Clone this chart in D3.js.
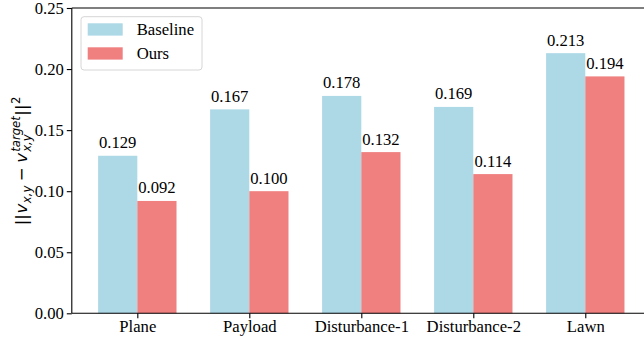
<!DOCTYPE html>
<html>
<head>
<meta charset="utf-8">
<script src="https://cdn.jsdelivr.net/npm/d3@7"></script>
<style>
  html, body { margin: 0; padding: 0; background: #fff; }
  svg { display: block; }
</style>
</head>
<body>
<svg id="chart" width="644" height="337"></svg>
<script>
// Data
const categories = ["Plane", "Payload", "Disturbance-1", "Disturbance-2", "Lawn"];
const baselineValues = [0.129, 0.167, 0.178, 0.169, 0.213];
const oursValues = [0.092, 0.100, 0.132, 0.114, 0.194];
const yTicks = [0.00, 0.05, 0.10, 0.15, 0.20, 0.25];
const seriesNames = ["Baseline", "Ours"];
const seriesColors = ["#ADD8E6", "#F08080"];

const barWidth = 0.35;
const serif = "'Liberation Serif', 'Times New Roman', serif";
const fs = 16.67;
const svg = d3.select("#chart");

const plot = { left: 71.8, right: 650.8, top: 8, bottom: 313.3 };
const x = d3.scaleLinear().domain([-0.585, 4.585]).range([plot.left, plot.right]);
const y = d3.scaleLinear().domain([0, 0.25]).range([plot.bottom, plot.top]);

function serifText(sel) {
  return sel.style("font-family", serif).style("font-size", fs + "px").style("fill", "#000");
}

// Bars and value labels
const series = [baselineValues, oursValues];
series.forEach((vals, s) => {
  const offset = s === 0 ? -barWidth : 0;
  svg.append("g").selectAll("rect").data(vals).join("rect")
    .attr("x", (d, i) => x(i + offset))
    .attr("width", x(barWidth) - x(0))
    .attr("y", d => y(d))
    .attr("height", d => y(0) - y(d))
    .attr("fill", seriesColors[s]);
  svg.append("g").selectAll("text").data(vals).join("text")
    .attr("x", (d, i) => x(i + offset + barWidth / 2))
    .attr("y", d => y(d) - 7.5)
    .attr("text-anchor", "middle")
    .call(serifText)
    .text(d => d.toFixed(3));
});

// Axes
const yAxis = d3.axisLeft(y).tickValues(yTicks).tickFormat(d3.format(".2f")).tickSizeOuter(0).tickSize(5).tickPadding(3);
const gy = svg.append("g").attr("transform", `translate(${plot.left},0)`).call(yAxis);
gy.select(".domain").remove();
gy.selectAll("line").attr("stroke", "#000").attr("stroke-width", 1.1);
gy.selectAll("text").call(serifText).attr("dy", "0.34em");

const xAxis = d3.axisBottom(x).tickValues(d3.range(categories.length)).tickFormat(i => categories[i]).tickSizeOuter(0).tickSize(5).tickPadding(3);
const gx = svg.append("g").attr("transform", `translate(0,${plot.bottom})`).call(xAxis);
gx.select(".domain").remove();
gx.selectAll("line").attr("stroke", "#000").attr("stroke-width", 1.1);
gx.selectAll("text").call(serifText).attr("dy", "0.62em");

// Frame
const frame = svg.append("g").attr("fill", "none").attr("stroke", "#000").attr("stroke-width", 1.1);
frame.append("line").attr("x1", plot.left).attr("x2", plot.right).attr("y1", plot.bottom).attr("y2", plot.bottom);
frame.append("line").attr("x1", plot.left).attr("x2", plot.right).attr("y1", plot.top).attr("y2", plot.top);
frame.append("line").attr("x1", plot.left).attr("x2", plot.left).attr("y1", plot.top).attr("y2", plot.bottom);
frame.append("line").attr("x1", plot.right).attr("x2", plot.right).attr("y1", plot.top).attr("y2", plot.bottom);

// Legend
const legend = svg.append("g").attr("transform", "translate(81,16.7)");
legend.append("rect").attr("width", 121).attr("height", 53.3).attr("rx", 3)
  .attr("fill", "#fff").attr("fill-opacity", 0.8).attr("stroke", "#d6d6d6").attr("stroke-width", 1);
seriesNames.forEach((name, i) => {
  legend.append("rect").attr("x", 6.7).attr("y", 6.6 + i * 24).attr("width", 35).attr("height", 12.3).attr("fill", seriesColors[i]);
  legend.append("text").attr("x", 55.7).attr("y", 18.5 + i * 24).call(serifText).text(name);
});

// Y axis label: ||v_{x,y} - v_{x,y}^{target}||^2 set as italic sans math
const lab = svg.append("g").attr("transform", `translate(27,${(plot.top + plot.bottom) / 2}) rotate(-90)`);
const mfs = 16.67, sfs = mfs * 0.7;
const pieces = [
  { t: "||", italic: false, size: mfs, dy: 0 },
  { t: "v", italic: true, size: mfs, dy: 0 },
  { t: "x,y", italic: true, size: sfs, dy: 3.5 },
  { gap: 4 },
  { t: "\u2212", italic: false, size: mfs, dy: 0 },
  { gap: 4 },
  { t: "v", italic: true, size: mfs, dy: 0 },
  { stack: [{ t: "target", italic: true, size: sfs, dy: -7.5 }, { t: "x,y", italic: true, size: sfs, dy: 3.5 }] },
  { t: "||", italic: false, size: mfs, dy: 0 },
  { t: "2", italic: false, size: sfs, dy: -7.5 }
];
const made = [];
let cx = 0;
function addText(p, xpos) {
  const el = lab.append("text")
    .attr("x", xpos).attr("y", p.dy)
    .style("font-family", "'DejaVu Sans', sans-serif")
    .style("font-style", p.italic ? "italic" : "normal")
    .style("font-size", p.size + "px")
    .style("fill", "#000")
    .text(p.t);
  made.push(el);
  return el.node().getComputedTextLength();
}
pieces.forEach(p => {
  if (p.gap) { cx += p.gap; return; }
  if (p.stack) {
    let w = 0;
    p.stack.forEach(q => { w = Math.max(w, addText(q, cx + 0.5)); });
    cx += w + 1;
    return;
  }
  cx += addText(p, cx) + 0.5;
});
made.forEach(el => el.attr("x", +el.attr("x") - cx / 2));
</script>
</body>
</html>
